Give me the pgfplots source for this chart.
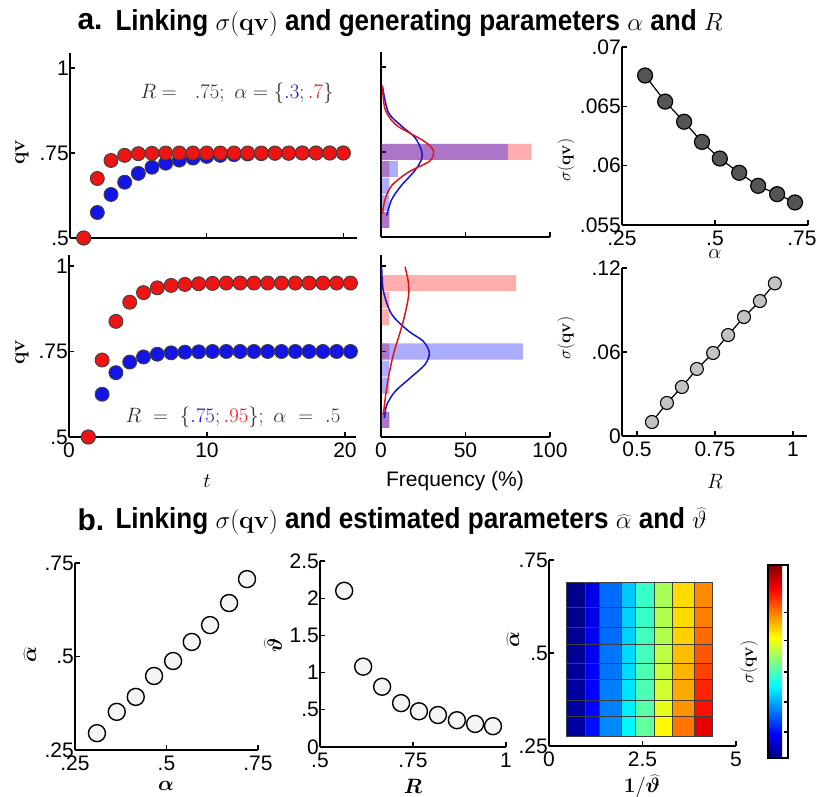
\documentclass[border=0pt]{standalone}
\usepackage[no-math]{fontspec}
\setmainfont{Liberation Sans}
\newfontfamily\titlefont[FakeStretch=0.9]{Liberation Sans}
\usepackage{bm}
\usepackage{pgfplots}
\pgfplotsset{compat=1.18}

\definecolor{dotred}{RGB}{238,20,20}
\definecolor{dotblue}{RGB}{20,20,228}
\definecolor{darkdot}{RGB}{85,85,85}
\definecolor{lightdot}{RGB}{195,195,195}
\definecolor{annot}{RGB}{50,50,50}
\definecolor{curvered}{RGB}{225,20,20}
\definecolor{curveblue}{RGB}{20,20,215}

\newcommand\lbl{\fontsize{21}{24}\selectfont}
\newcommand\sml{\fontsize{16}{18}\selectfont}

\pgfplotsset{
  pan/.style={scale only axis, anchor=south west, clip=false,
    axis x line*=bottom, axis y line*=left,
    axis line style={-, line width=1.4pt},
    tick align=inside, major tick length=5pt,
    tick style={black, line width=1.2pt},
    scaled ticks=false,
    ticklabel style={font=\lbl, inner sep=1pt},
    xticklabel style={yshift=-5pt}},
  reddot/.style={only marks, mark=*, mark size=7pt,
    mark options={fill=dotred, draw=black!75, line width=0.9pt}},
  bluedot/.style={only marks, mark=*, mark size=7pt,
    mark options={fill=dotblue, draw=black!75, line width=0.9pt}},
  hbar/.style={xbar, bar width=0.047, bar shift=0pt, draw=none, fill opacity=0.32},
  opencirc/.style={only marks, mark=*, mark size=8.5pt,
    mark options={fill=black!4, draw=black, line width=1.4pt}},
}

\begin{document}
\begin{tikzpicture}
\useasboundingbox (0,0) rectangle (820pt,-797pt);

% ---------- a: titles ----------
\node[anchor=west] at (74pt,-22pt) {\fontsize{30}{30}\selectfont\bfseries a.};
\node[anchor=west] at (112pt,-23pt) {\titlefont\fontsize{29}{31}\selectfont\bfseries
  Linking $\sigma(\mathbf{qv})$ and generating parameters $\alpha$ and $R$};

% ---------- a1: qv over trials, alpha ----------
\begin{axis}[pan, at={(70pt,-238pt)}, width=287pt, height=185pt,
  xmin=0, xmax=21, ymin=0.5, ymax=1.044,
  xtick={10,20}, xticklabels={},
  ytick={0.5,0.75,1}, yticklabels={.5,.75,1}]
\addplot[bluedot] coordinates {(1,0.5) (2,0.575) (3,0.628) (4,0.664) (5,0.690)
  (6,0.708) (7,0.720) (8,0.729) (9,0.735) (10,0.740) (11,0.743) (12,0.745)
  (13,0.747) (14,0.748) (15,0.749) (16,0.749) (17,0.750) (18,0.750) (19,0.750) (20,0.750)};
\addplot[reddot] coordinates {(1,0.5) (2,0.675) (3,0.728) (4,0.743) (5,0.748)
  (6,0.749) (7,0.750) (8,0.750) (9,0.750) (10,0.750) (11,0.750) (12,0.750)
  (13,0.750) (14,0.750) (15,0.750) (16,0.750) (17,0.750) (18,0.750) (19,0.750) (20,0.750)};
\end{axis}
\node at (237pt,-93pt) {\fontsize{22}{24}\selectfont\color{annot}
  $R=\ \ .75;\ \alpha=\{{\color{dotblue}.3};{\color{dotred}.7}\}$};
\node[rotate=90] at (22pt,-152pt) {\lbl$\mathbf{qv}$};

% ---------- a2: qv over trials, R ----------
\begin{axis}[pan, at={(69pt,-437pt)}, width=287pt, height=182pt,
  xmin=0, xmax=20.8, ymin=0.5, ymax=1.032,
  xtick={0,10,20}, xticklabels={0,10,20},
  ytick={0.5,0.75,1}, yticklabels={.5,.75,1}]
\addplot[bluedot] coordinates {(1.4,0.5) (2.4,0.625) (3.4,0.688) (4.4,0.719)
  (5.4,0.734) (6.4,0.742) (7.4,0.746) (8.4,0.748) (9.4,0.749) (10.4,0.750)
  (11.4,0.750) (12.4,0.750) (13.4,0.750) (14.4,0.750) (15.4,0.750) (16.4,0.750)
  (17.4,0.750) (18.4,0.750) (19.4,0.750) (20.4,0.750)};
\addplot[reddot] coordinates {(1.4,0.5) (2.4,0.725) (3.4,0.838) (4.4,0.894)
  (5.4,0.922) (6.4,0.936) (7.4,0.943) (8.4,0.946) (9.4,0.948) (10.4,0.949)
  (11.4,0.950) (12.4,0.950) (13.4,0.950) (14.4,0.950) (15.4,0.950) (16.4,0.950)
  (17.4,0.950) (18.4,0.950) (19.4,0.950) (20.4,0.950)};
\end{axis}
\node at (233pt,-417pt) {\fontsize{22}{24}\selectfont\color{annot}
  $R\ =\ \{{\color{dotblue}.75};{\color{dotred}.95}\};\ \alpha\ =\ .5$};
\node[rotate=90] at (22pt,-352pt) {\lbl$\mathbf{qv}$};
\node at (207pt,-481pt) {\lbl$t$};

% ---------- a: histograms ----------
\begin{axis}[pan, at={(381pt,-237pt)}, width=169pt, height=185pt,
  xmin=0, xmax=100, ymin=0.5, ymax=1.044,
  xtick={50,100}, xticklabels={}, ytick={0.75,1}, yticklabels={}]
\addplot[hbar, fill=red] coordinates {(89,0.75) (5,0.70) (5,0.55)};
\addplot[hbar, fill=blue] coordinates {(75,0.75) (10,0.70) (5,0.65) (5,0.60) (5,0.55)};
\addplot[curveblue, line width=1.5pt, smooth] coordinates {(0.8,0.945) (4.3,0.867)
  (12,0.827) (20,0.793) (24,0.754) (24,0.729) (20,0.695) (12,0.651) (6.3,0.61) (3.4,0.563)};
\addplot[curvered, line width=1.5pt, smooth] coordinates {(0.8,0.945) (2.4,0.876)
  (8.3,0.832) (18,0.803) (26,0.78) (31,0.754) (29,0.724) (16,0.69) (6.3,0.651)
  (2.4,0.61) (0.8,0.568)};
\end{axis}

\begin{axis}[pan, at={(381pt,-437pt)}, width=169pt, height=182pt,
  xmin=0, xmax=100, ymin=0.5, ymax=1.032,
  xtick={0,50,100}, xticklabels={0,50,100}, ytick={0.75,1}, yticklabels={}]
\addplot[hbar, fill=red] coordinates {(80,0.95) (5,0.90) (5,0.85) (5,0.75) (5,0.55)};
\addplot[hbar, fill=blue] coordinates {(84,0.75) (5,0.70) (5,0.65) (5,0.55)};
\addplot[curveblue, line width=1.5pt, smooth] coordinates {(0.4,0.996) (1.4,0.927)
  (6.3,0.859) (16.2,0.81) (25,0.78) (28.6,0.746) (26,0.712) (16.2,0.668) (8.3,0.633)
  (3.4,0.594) (2,0.555)};
\addplot[curvered, line width=1.5pt, smooth] coordinates {(14.2,0.998) (16.2,0.952)
  (16.2,0.908) (13.2,0.839) (10.3,0.79) (7.3,0.741) (4.7,0.682) (2.8,0.624) (1.4,0.565)};
\end{axis}
\node at (455pt,-481pt) {\lbl Frequency (\%)};

% ---------- a: sigma(qv) vs alpha ----------
\begin{axis}[pan, at={(622pt,-225pt)}, width=186pt, height=178pt,
  xmin=0.25, xmax=0.75, ymin=0.055, ymax=0.07,
  xtick={0.25,0.5,0.75}, xticklabels={.25,.5,{\hspace*{-12pt}.75}},
  ytick={0.055,0.06,0.065,0.07}, yticklabels={.055,.06,.065,.07}]
\addplot[black, line width=1.2pt, mark=*, mark size=7.5pt,
  mark options={fill=darkdot, draw=black, line width=1.2pt}] coordinates {
  (0.312,0.0676) (0.366,0.0654) (0.417,0.0637) (0.465,0.0620) (0.513,0.0606)
  (0.565,0.0594) (0.616,0.0583) (0.667,0.0576) (0.715,0.0569)};
\end{axis}
\node[rotate=90] at (566pt,-160pt) {\sml$\sigma(\mathbf{qv})$};
\node at (715pt,-254pt) {\lbl$\alpha$};

% ---------- a: sigma(qv) vs R ----------
\begin{axis}[pan, at={(622pt,-436pt)}, width=185pt, height=168pt,
  xmin=0.452, xmax=1.045, ymin=0, ymax=0.12,
  xtick={0.5,0.75,1}, xticklabels={0.5,0.75,1},
  ytick={0,0.06,0.12}, yticklabels={0,.06,.12}]
\addplot[black, line width=1.2pt, mark=*, mark size=6.5pt,
  mark options={fill=lightdot, draw=black, line width=1.1pt}] coordinates {
  (0.548,0.010) (0.596,0.0236) (0.644,0.035) (0.692,0.0479) (0.744,0.0593)
  (0.792,0.0721) (0.843,0.085) (0.894,0.0964) (0.942,0.109)};
\end{axis}
\node[rotate=90] at (566pt,-338pt) {\sml$\sigma(\mathbf{qv})$};
\node at (715pt,-481pt) {\lbl$R$};

% ---------- b: titles ----------
\node[anchor=west] at (74pt,-520pt) {\fontsize{30}{30}\selectfont\bfseries b.};
\node[anchor=west] at (112pt,-521pt) {\titlefont\fontsize{29}{31}\selectfont\bfseries
  Linking $\sigma(\mathbf{qv})$ and estimated parameters $\widehat{\alpha}$ and $\widehat{\vartheta}$};

% ---------- b1: alpha hat vs alpha ----------
\begin{axis}[pan, at={(75pt,-750pt)}, width=183pt, height=187pt,
  xmin=0.25, xmax=0.75, ymin=0.25, ymax=0.75,
  xtick={0.25,0.5,0.75}, xticklabels={.25,.5,.75},
  ytick={0.25,0.5,0.75}, yticklabels={.25,.5,.75}]
\addplot[opencirc] coordinates {(0.31,0.295) (0.364,0.352) (0.416,0.392) (0.466,0.448)
  (0.518,0.488) (0.569,0.539) (0.619,0.584) (0.671,0.643) (0.72,0.707)};
\end{axis}
\node[rotate=90] at (30pt,-655pt) {\lbl$\widehat{\bm\alpha}$};
\node at (166pt,-786pt) {\lbl$\bm\alpha$};

% ---------- b2: theta hat vs R ----------
\begin{axis}[pan, at={(320pt,-747pt)}, width=186pt, height=186pt,
  xmin=0.5, xmax=1, ymin=0, ymax=2.5,
  xtick={0.5,0.75,1}, xticklabels={.5,.75,1},
  ytick={0,0.5,1,1.5,2,2.5}, yticklabels={0,.5,1,1.5,2,2.5}]
\addplot[opencirc] coordinates {(0.565,2.10) (0.616,1.08) (0.667,0.81) (0.718,0.59)
  (0.766,0.48) (0.817,0.43) (0.868,0.36) (0.917,0.31) (0.965,0.28)};
\end{axis}
\node[rotate=90] at (273pt,-645pt) {\lbl$\widehat{\bm\vartheta}$};
\node at (413pt,-786pt) {\lbl$\bm R$};

% ---------- b3: sigma(qv) map ----------
\begin{axis}[pan, at={(549pt,-746pt)}, width=187pt, height=186pt,
  xmin=0, xmax=5, ymin=0.25, ymax=0.75,
  xtick={0,2.5,5}, xticklabels={0,2.5,5},
  ytick={0.25,0.5,0.75}, yticklabels={.25,.5,.75},
  colormap/jet, point meta min=0, point meta max=1,
  colorbar, colorbar style={at={(1.171,0.973)}, anchor=north west,
    width=20pt, height=193pt, scale only axis,
    ytick={0.135,0.29,0.446,0.61,0.756}, yticklabels={},
    tick align=inside, major tick length=4pt, ytick pos=right,
    axis line style={line width=1.2pt}}]
\addplot[surf, shader=flat corner, mesh/cols=9, point meta=explicit,
  draw=black!75, line width=0.7pt] table[meta=c] {
x y c
0.47 0.275 0.03
0.96 0.275 0.14
1.35 0.275 0.26
1.93 0.275 0.37
2.30 0.275 0.47
2.81 0.275 0.63
3.31 0.275 0.76
3.89 0.275 0.90
4.36 0.275 0.90
0.47 0.329 0.03
0.96 0.329 0.13
1.35 0.329 0.25
1.93 0.329 0.36
2.30 0.329 0.46
2.81 0.329 0.60
3.31 0.329 0.73
3.89 0.329 0.86
4.36 0.329 0.86
0.47 0.374 0.03
0.96 0.374 0.12
1.35 0.374 0.25
1.93 0.374 0.35
2.30 0.374 0.45
2.81 0.374 0.58
3.31 0.374 0.71
3.89 0.374 0.84
4.36 0.374 0.84
0.47 0.430 0.02
0.96 0.430 0.12
1.35 0.430 0.24
1.93 0.430 0.34
2.30 0.430 0.45
2.81 0.430 0.57
3.31 0.430 0.70
3.89 0.430 0.81
4.36 0.430 0.81
0.47 0.472 0.02
0.96 0.472 0.11
1.35 0.472 0.24
1.93 0.472 0.34
2.30 0.472 0.44
2.81 0.472 0.56
3.31 0.472 0.69
3.89 0.472 0.79
4.36 0.472 0.79
0.47 0.522 0.02
0.96 0.522 0.11
1.35 0.522 0.23
1.93 0.522 0.33
2.30 0.522 0.44
2.81 0.522 0.55
3.31 0.522 0.67
3.89 0.522 0.77
4.36 0.522 0.77
0.47 0.568 0.01
0.96 0.568 0.10
1.35 0.568 0.23
1.93 0.568 0.33
2.30 0.568 0.43
2.81 0.568 0.55
3.31 0.568 0.66
3.89 0.568 0.75
4.36 0.568 0.75
0.47 0.623 0.01
0.96 0.623 0.10
1.35 0.623 0.23
1.93 0.623 0.32
2.30 0.623 0.43
2.81 0.623 0.54
3.31 0.623 0.66
3.89 0.623 0.74
4.36 0.623 0.74
0.47 0.690 0.01
0.96 0.690 0.10
1.35 0.690 0.23
1.93 0.690 0.32
2.30 0.690 0.43
2.81 0.690 0.54
3.31 0.690 0.66
3.89 0.690 0.74
4.36 0.690 0.74
};
\end{axis}
\node[rotate=90] at (513pt,-640pt) {\lbl$\widehat{\bm\alpha}$};
\node at (642pt,-786pt) {\lbl$\mathbf{1}/\widehat{\bm\vartheta}$};
\node[rotate=90] at (749pt,-662pt) {\fontsize{19}{21}\selectfont$\sigma(\mathbf{qv})$};
\end{tikzpicture}
\end{document}
